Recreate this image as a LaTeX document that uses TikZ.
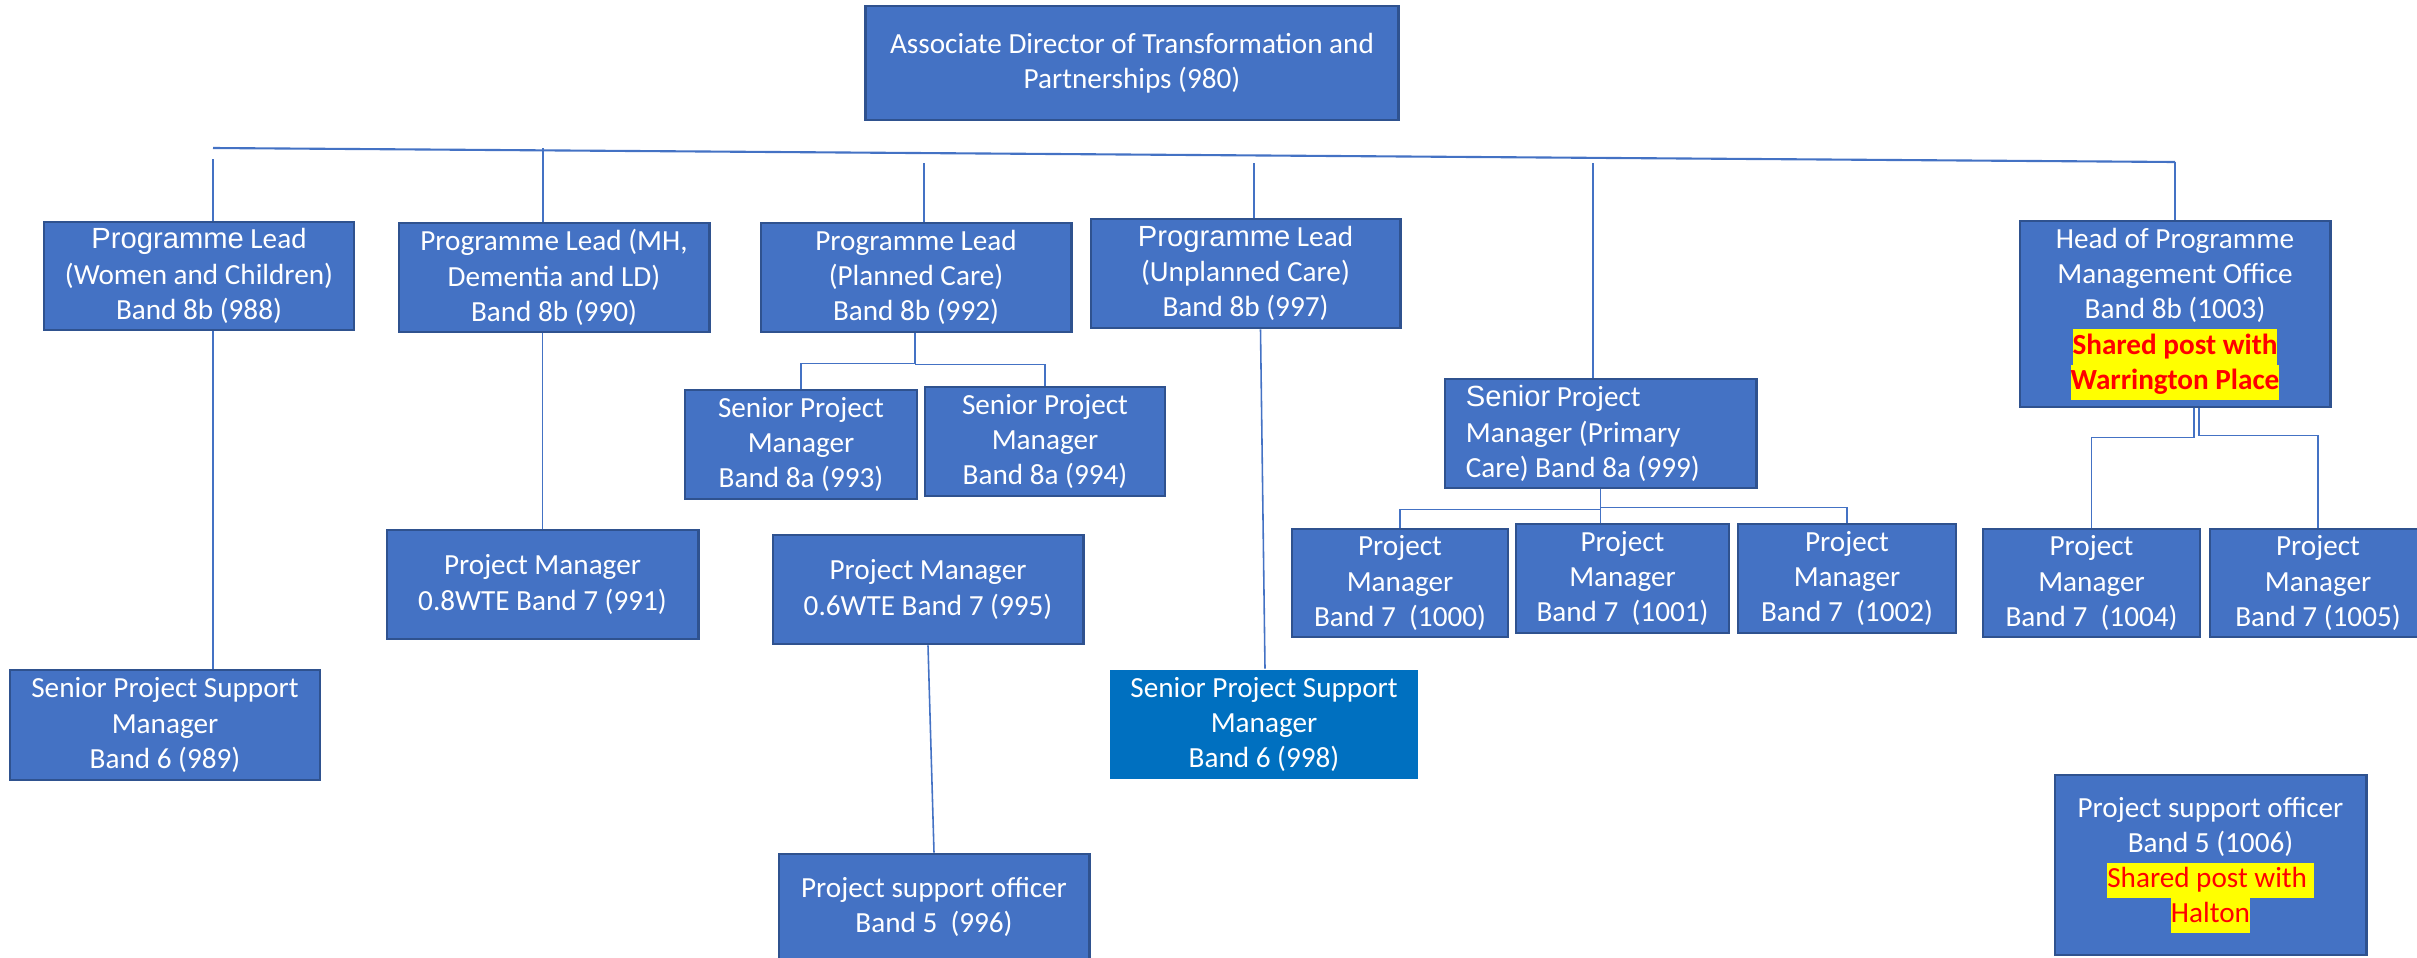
\documentclass[tikz,border=0pt]{standalone}
\usepackage{fontspec}
\setmainfont{Carlito}
\newfontfamily\arialf{Liberation Sans}
\usetikzlibrary{calc}
\definecolor{boxblue}{HTML}{4472C4}
\definecolor{boxedge}{HTML}{2F528F}
\definecolor{darkblue}{HTML}{0070C0}
\definecolor{hlyellow}{HTML}{FFFF00}
\definecolor{redtxt}{HTML}{FF0000}
\newcommand{\hlt}[1]{{\setlength{\fboxsep}{0pt}\colorbox{hlyellow}{\strut\textcolor{redtxt}{#1}}}}
\begin{document}
\begin{tikzpicture}[x=0.01cm,y=-0.01cm,
  box/.style={draw=boxedge, line width=0.8pt, fill=boxblue, text=white, align=center,
    inner sep=0pt, font=\fontsize{8.3}{10}\selectfont},
  conn/.style={draw=boxblue, line width=0.45pt}]
\useasboundingbox (0,0) rectangle (2417,957);
\clip (0,0) rectangle (2417,957);

% boxes
\node[box, minimum width=5.32cm, minimum height=1.14cm] (top) at (1132,63)
  {Associate Director of Transformation and\\Partnerships (980)};
\node[box, minimum width=3.10cm, minimum height=1.08cm] (wc) at (199,276)
  {{\arialf Programme} Lead\\(Women and Children)\\Band 8b (988)};
\node[box, minimum width=3.10cm, minimum height=1.09cm] (mh) at (554,277.5)
  {Programme Lead (MH,\\Dementia and LD)\\Band 8b (990)};
\node[box, minimum width=3.10cm, minimum height=1.09cm] (pc) at (916,277.5)
  {Programme Lead\\(Planned Care)\\Band 8b (992)};
\node[box, minimum width=3.09cm, minimum height=1.09cm] (uc) at (1245.5,273.5)
  {{\arialf Programme} Lead\\(Unplanned Care)\\Band 8b (997)};
\node[box, minimum width=3.10cm, minimum height=1.86cm] (pmo) at (2175,314)
  {Head of Programme\\Management Office\\Band 8b (1003)\\\hlt{\bfseries Shared post with}\\\hlt{\bfseries Warrington Place}};
\node[box, minimum width=2.32cm, minimum height=1.09cm] (spm993) at (801,444.5)
  {Senior Project\\Manager\\Band 8a (993)};
\node[box, minimum width=2.40cm, minimum height=1.09cm] (spm994) at (1045,441.5)
  {Senior Project\\Manager\\Band 8a (994)};
\node[box, minimum width=3.11cm, minimum height=1.09cm, align=flush left, text width=2.69cm] (spm999) at (1600.5,433.5)
  {{\arialf Senior} Project\\Manager (Primary\\Care) Band 8a (999)};
\node[box, minimum width=3.11cm, minimum height=1.09cm] (pm991) at (542.5,584.5)
  {Project Manager\\0.8WTE Band 7 (991)};
\node[box, minimum width=3.10cm, minimum height=1.09cm] (pm995) at (928,589.5)
  {Project Manager\\0.6WTE Band 7 (995)};
\node[box, minimum width=3.10cm, minimum height=1.10cm] (spsm989) at (165,725)
  {Senior Project Support\\Manager\\Band 6 (989)};
\node[box, draw=none, fill=darkblue, minimum width=3.08cm, minimum height=1.09cm] (spsm998) at (1264,724.5)
  {Senior Project Support\\Manager\\Band 6 (998)};
\node[box, minimum width=3.10cm, minimum height=1.06cm] (pso996) at (934,907)
  {Project support officer\\Band 5\ \ (996)};
\node[box, minimum width=2.16cm, minimum height=1.08cm] (pm1000) at (1400,583)
  {Project\\Manager\\Band 7\ \ (1000)};
\node[box, minimum width=2.13cm, minimum height=1.09cm] (pm1001) at (1622.5,578.5)
  {Project\\Manager\\Band 7\ \ (1001)};
\node[box, minimum width=2.18cm, minimum height=1.09cm] (pm1002) at (1847,578.5)
  {Project\\Manager\\Band 7\ \ (1002)};
\node[box, minimum width=2.17cm, minimum height=1.08cm] (pm1004) at (2091.5,583)
  {Project\\Manager\\Band 7\ \ (1004)};
\node[box, minimum width=2.16cm, minimum height=1.08cm] (pm1005) at (2318,583)
  {Project\\Manager\\Band 7 (1005)};
\node[box, minimum width=3.11cm, minimum height=1.80cm] (pso1006) at (2210.5,865)
  {Project support officer\\Band 5 (1006)\\\hlt{Shared post with\ }\\\hlt{Halton}};

% main bus and drops
\coordinate (busL) at (213,148);
\coordinate (busR) at (2175,162);
\draw[conn, line width=0.6pt] (busL) -- (busR);
\coordinate (dWC) at (213,159);
\coordinate (dMH) at (543,148);
\coordinate (dPC) at (924,163);
\coordinate (dUC) at (1254,163);
\coordinate (dSP) at (1593,163);
\draw[conn] (dWC) -- (dWC |- wc.north);
\draw[conn] (dMH) -- (dMH |- mh.north);
\draw[conn] (dPC) -- (dPC |- pc.north);
\draw[conn] (dUC) -- (dUC |- uc.north);
\draw[conn] (dSP) -- (dSP |- spm999.north);
\draw[conn] (busR) -- (pmo.north);

% lower connectors
\draw[conn] (wc.south -| dWC) -- (dWC |- spsm989.north);
\draw[conn] (mh.south -| pm991.north) -- (pm991.north);
\coordinate (pcJ) at ($(pc.south)+(-1,30)$);
\draw[conn] ($(pc.south)+(-1,0)$) -- (pcJ) -| (spm993.north);
\draw[conn] ($(pcJ)+(0,1)$) -| (spm994.north);
\draw[conn] (pm995.south) -- (pso996.north);
\draw[conn] ($(uc.south)+(15,0)$) -- ($(spsm998.north)+(1,0)$);
\coordinate (spJ) at ($(spm999.south)+(0,20)$);
\draw[conn] (spm999.south) -- (spJ) -| (pm1000.north);
\draw[conn] (spJ) -- (spJ |- pm1001.north);
\draw[conn] ($(spJ)+(0,-2)$) -| (pm1002.north);
\draw[conn] ($(pmo.south)+(19,0)$) -- ++(0,29) -| (pm1004.north);
\draw[conn] ($(pmo.south)+(24,0)$) -- ++(0,27) -| (pm1005.north);
\end{tikzpicture}
\end{document}
